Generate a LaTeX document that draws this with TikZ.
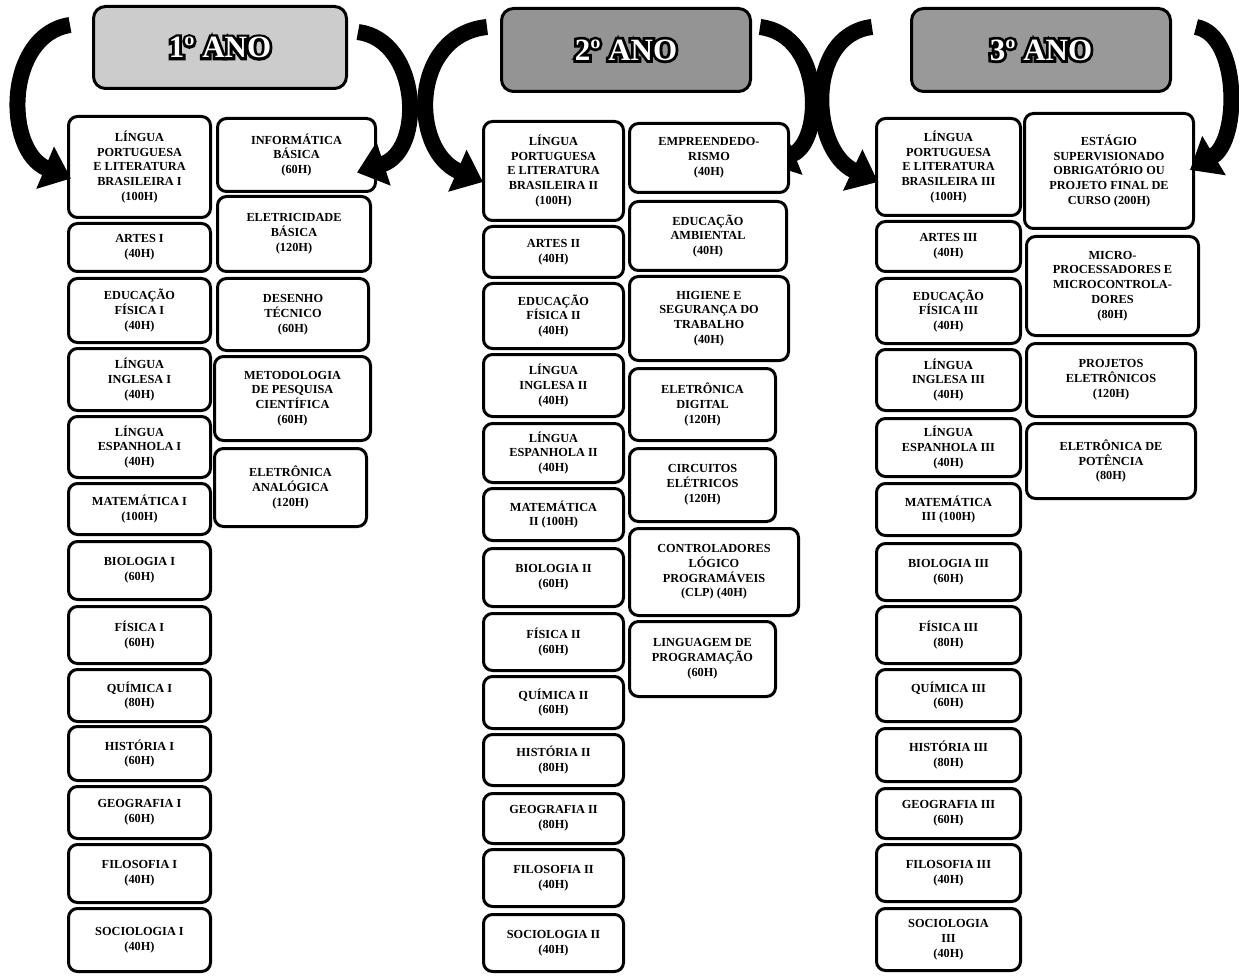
\documentclass[tikz,border=0pt]{standalone}
\usepackage{fontspec}
\setmainfont{Liberation Serif}
\newfontfamily\yearoutline{Liberation Serif Bold}[FakeBold=18]
\newfontfamily\yearfill{Liberation Serif Bold}
\usetikzlibrary{arrows.meta,calc,backgrounds}
\tikzset{
  box/.style={draw=black, line width=3pt, rounded corners=9pt, fill=white,
    align=center, inner sep=2pt,
    font=\bfseries\fontsize{12.3}{14.8}\selectfont},
  yearbox/.style={draw=black, line width=3pt, rounded corners=12pt},
  bigarrow/.style={line width=16pt, -{Triangle[width=44pt,length=28pt]}}
}
\newcommand\bx[6]{%
  \node[box, minimum width={(#4-#2-3)*1pt}, minimum height={(#5-#3-3)*1pt}]
    (#1) at ({(#2+#4)/2},{(#3+#5)/2}) {#6};}
\newcommand\yearlabel[3]{%
  \node[inner sep=0pt, text=black, font=\yearoutline\fontsize{31}{33}\selectfont] (#1s) at (#2.center) {#3};
  \node[inner sep=0pt, text=white, font=\yearfill\fontsize{31}{33}\selectfont] (#1) at (#2.center) {#3};}

\begin{document}
\begin{tikzpicture}[x=1pt,y=-1pt]
\useasboundingbox (0,0) rectangle (1239,976);

% year headers
\node[yearbox, fill=black!20, minimum width=253pt, minimum height=82pt] (h1) at (220,47.5) {};
\node[yearbox, fill=black!42, minimum width=249pt, minimum height=83pt] (h2) at (626,50) {};
\node[yearbox, fill=black!40, minimum width=259pt, minimum height=83pt] (h3) at (1041,50) {};
\yearlabel{t1}{h1}{1º ANO}
\yearlabel{t2}{h2}{2º ANO}
\yearlabel{t3}{h3}{3º ANO}

% ---------- 1º ANO ----------
\bx{p1l1}{67}{115}{212}{219}{LÍNGUA\\PORTUGUESA\\E LITERATURA\\BRASILEIRA I\\(100H)}
\bx{p1l2}{67}{222}{212}{273}{ARTES I\\(40H)}
\bx{p1l3}{67}{277}{212}{344}{EDUCAÇÃO\\FÍSICA I\\(40H)}
\bx{p1l4}{67}{347}{212}{412}{LÍNGUA\\INGLESA I\\(40H)}
\bx{p1l5}{67}{415}{212}{479}{LÍNGUA\\ESPANHOLA I\\(40H)}
\bx{p1l6}{67}{482}{212}{536}{MATEMÁTICA I\\(100H)}
\bx{p1l7}{67}{540}{212}{601}{BIOLOGIA I\\(60H)}
\bx{p1l8}{67}{605}{212}{665}{FÍSICA I\\(60H)}
\bx{p1l9}{67}{668}{212}{723}{QUÍMICA I\\(80H)}
\bx{p1l10}{67}{725}{212}{782}{HISTÓRIA I\\(60H)}
\bx{p1l11}{67}{785}{212}{840}{GEOGRAFIA I\\(60H)}
\bx{p1l12}{67}{843}{212}{904}{FILOSOFIA I\\(40H)}
\bx{p1l13}{67}{907}{212}{973}{SOCIOLOGIA I\\(40H)}

\bx{p1r1}{216}{117}{377}{193}{INFORMÁTICA\\BÁSICA\\(60H)}
\bx{p1r2}{216}{195}{372}{273}{ELETRICIDADE\\BÁSICA\\(120H)}
\bx{p1r3}{216}{277}{370}{352}{DESENHO\\TÉCNICO\\(60H)}
\bx{p1r4}{213}{355}{372}{442}{METODOLOGIA\\DE PESQUISA\\CIENTÍFICA\\(60H)}
\bx{p1r5}{213}{447}{368}{528}{ELETRÔNICA\\ANALÓGICA\\(120H)}

% ---------- 2º ANO ----------
\bx{p2l1}{482}{120}{625}{222}{LÍNGUA\\PORTUGUESA\\E LITERATURA\\BRASILEIRA II\\(100H)}
\bx{p2l2}{482}{225}{625}{279}{ARTES II\\(40H)}
\bx{p2l3}{482}{282}{625}{350}{EDUCAÇÃO\\FÍSICA II\\(40H)}
\bx{p2l4}{482}{353}{625}{418}{LÍNGUA\\INGLESA II\\(40H)}
\bx{p2l5}{482}{422}{625}{484}{LÍNGUA\\ESPANHOLA II\\(40H)}
\bx{p2l6}{482}{487}{625}{542}{MATEMÁTICA\\II (100H)}
\bx{p2l7}{482}{547}{625}{608}{BIOLOGIA II\\(60H)}
\bx{p2l8}{482}{612}{625}{672}{FÍSICA II\\(60H)}
\bx{p2l9}{482}{675}{625}{730}{QUÍMICA II\\(60H)}
\bx{p2l10}{482}{733}{625}{787}{HISTÓRIA II\\(80H)}
\bx{p2l11}{482}{792}{625}{845}{GEOGRAFIA II\\(80H)}
\bx{p2l12}{482}{848}{625}{908}{FILOSOFIA II\\(40H)}
\bx{p2l13}{482}{913}{625}{973}{SOCIOLOGIA II\\(40H)}

\bx{p2r1}{628}{122}{790}{194}{EMPREENDEDO-\\RISMO\\(40H)}
\bx{p2r2}{628}{200}{788}{272}{EDUCAÇÃO\\AMBIENTAL\\(40H)}
\bx{p2r3}{628}{275}{790}{362}{HIGIENE E\\SEGURANÇA DO\\TRABALHO\\(40H)}
\bx{p2r4}{628}{367}{777}{442}{ELETRÔNICA\\DIGITAL\\(120H)}
\bx{p2r5}{628}{447}{777}{523}{CIRCUITOS\\ELÉTRICOS\\(120H)}
\bx{p2r6}{628}{527}{800}{617}{CONTROLADORES\\LÓGICO\\PROGRAMÁVEIS\\(CLP) (40H)}
\bx{p2r7}{628}{620}{777}{698}{LINGUAGEM DE\\PROGRAMAÇÃO\\(60H)}

% ---------- 3º ANO ----------
\bx{p3l1}{875}{117}{1022}{217}{LÍNGUA\\PORTUGUESA\\E LITERATURA\\BRASILEIRA III\\(100H)}
\bx{p3l2}{875}{220}{1022}{273}{ARTES III\\(40H)}
\bx{p3l3}{875}{277}{1022}{345}{EDUCAÇÃO\\FÍSICA III\\(40H)}
\bx{p3l4}{875}{348}{1022}{412}{LÍNGUA\\INGLESA III\\(40H)}
\bx{p3l5}{875}{417}{1022}{478}{LÍNGUA\\ESPANHOLA III\\(40H)}
\bx{p3l6}{875}{482}{1022}{537}{MATEMÁTICA\\III (100H)}
\bx{p3l7}{875}{542}{1022}{602}{BIOLOGIA III\\(60H)}
\bx{p3l8}{875}{605}{1022}{665}{FÍSICA III\\(80H)}
\bx{p3l9}{875}{668}{1022}{723}{QUÍMICA III\\(60H)}
\bx{p3l10}{875}{727}{1022}{783}{HISTÓRIA III\\(80H)}
\bx{p3l11}{875}{787}{1022}{840}{GEOGRAFIA III\\(60H)}
\bx{p3l12}{875}{843}{1022}{903}{FILOSOFIA III\\(40H)}
\bx{p3l13}{875}{907}{1022}{972}{SOCIOLOGIA\\III\\(40H)}

\bx{p3r1}{1023}{112}{1195}{230}{ESTÁGIO\\SUPERVISIONADO\\OBRIGATÓRIO OU\\PROJETO FINAL DE\\CURSO (200H)}
\bx{p3r2}{1025}{235}{1200}{337}{MICRO-\\PROCESSADORES E\\MICROCONTROLA-\\DORES\\(80H)}
\bx{p3r3}{1025}{342}{1197}{418}{PROJETOS\\ELETRÔNICOS\\(120H)}
\bx{p3r4}{1025}{422}{1197}{500}{ELETRÔNICA DE\\POTÊNCIA\\(80H)}

% ---------- arrows from the year headers ----------
% this one runs behind the first box of the right column
\begin{pgfonlayer}{background}
\draw[bigarrow] ([shift={(8,-23)}]h2.east) .. controls +(65,8) and +(55,-22) .. ([shift={(-22,6)}]p2r1.east);
\end{pgfonlayer}
\draw[bigarrow] ([shift={(-22,-22.5)}]h1.west) .. controls +(-65,10) and +(-67,-28) .. ([shift={(4,11.5)}]p1l1.west);
\draw[bigarrow] ([shift={(10,-15.5)}]h1.east) .. controls +(62,8) and +(68,-22) .. ([shift={(-20,17.5)}]p1r1.east);
\draw[bigarrow] ([shift={(-13,-23)}]h2.west) .. controls +(-77,8) and +(-73,-32) .. ([shift={(1,11)}]p2l1.west);
\draw[bigarrow] ([shift={(-38,-23)}]h3.west) .. controls +(-67,8) and +(-68,-32) .. ([shift={(3,15)}]p3l1.west);
\draw[bigarrow] ([shift={(24,-23)}]h3.east) .. controls +(44,8) and +(50,-30) .. ([shift={(-5,-1)}]p3r1.east);
\end{tikzpicture}
\end{document}
